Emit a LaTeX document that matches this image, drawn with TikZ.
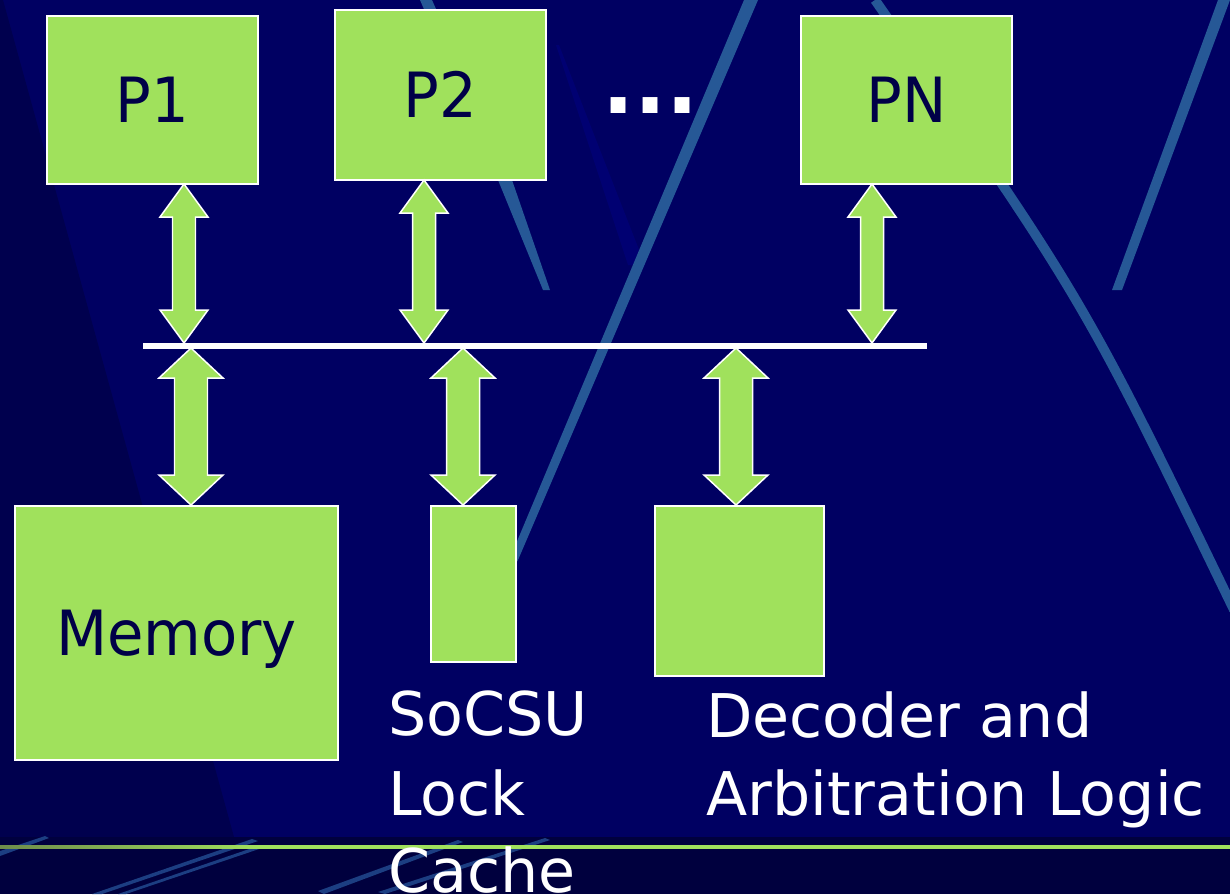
\documentclass[tikz,border=0pt]{standalone}
\usepackage{fontspec}
\setmainfont{DejaVu Sans}
\newfontfamily\narrowfam[FakeStretch=0.95]{DejaVu Sans}
\usetikzlibrary{calc}
\newcommand\bxfnt{\narrowfam\fontsize{35.5pt}{42pt}\selectfont}
\newcommand\capfnt{\fontsize{34.3pt}{43.6pt}\selectfont}
\newcommand\dotfnt{\bfseries\fontsize{48pt}{52pt}\selectfont}
\definecolor{bg}{RGB}{0,0,98}
\definecolor{bgdark}{RGB}{0,0,78}
\definecolor{bgband}{RGB}{0,0,62}
\definecolor{streak}{RGB}{38,88,150}
\definecolor{streakdim}{RGB}{28,62,130}
\definecolor{wedgeblue}{RGB}{0,0,114}
\definecolor{boxgreen}{RGB}{160,225,92}
\definecolor{txtnavy}{RGB}{0,0,72}
\definecolor{lineolive}{RGB}{110,140,75}
\tikzset{
  pics/dblarrow/.style n args={4}{code={
    \draw[arrowbody] (0,0) -- (#2,#4) -- (#3,#4) -- (#3,#1-#4) -- (#2,#1-#4) -- (0,#1)
      -- (-#2,#1-#4) -- (-#3,#1-#4) -- (-#3,#4) -- (-#2,#4) -- cycle;
  }}
}
\begin{document}
\begin{tikzpicture}[x=0.02cm,y=-0.02cm,
  box/.style 2 args={draw=white, fill=boxgreen, line width=0.85pt, inner sep=0pt, outer sep=0pt,
    minimum width=#1*0.02cm, minimum height=#2*0.02cm, text=txtnavy, font=\bxfnt,
    text height=25.9pt, text depth=0pt},
  arrowbody/.style={draw=white, fill=boxgreen, line width=0.85pt, line join=miter},
  bus/.style={draw=white, line width=3.2pt},
  streakline/.style={draw=streak, line width=#1, line cap=butt},
  caption/.style={text=white, font=\capfnt, inner sep=0pt, anchor=base west},
  dotsstyle/.style={text=white, font=\dotfnt, inner sep=0pt, anchor=base west}]
\useasboundingbox (0,0) rectangle (1230,894);
\clip (0,0) rectangle (1230,894);
% background
\fill[bg] (0,0) rectangle (1230,894);
\fill[bgdark] (0,0) -- (3,0) -- (234,837) -- (0,837) -- cycle;
\fill[wedgeblue] (556,45) -- (559,45) -- (645,265) -- (628,265) -- cycle;
% streaks
\fill[streak] (744,0) -- (758,0) -- (518,560) -- (508,576) -- (505,570) -- cycle;
\fill[streak] (420,0) -- (432,0) -- (512,180) -- (550,290) -- (543,290) -- (498,180) -- cycle;
\draw[streakline=5.5pt] (875,0) .. controls (1084,300) .. (1234,610);
\fill[streak] (1218,0) -- (1230,0) -- (1122,290) -- (1112,290) -- cycle;
% bottom band
\fill[bgband] (0,837) rectangle (1230,894);
\fill[streakdim] (0,851) -- (45,836) -- (49,838) -- (0,856) -- cycle;
\fill[streakdim] (92,894) -- (252,839) -- (258,841) -- (102,894) -- cycle;
\fill[streakdim] (118,894) -- (258,846) -- (262,848) -- (126,894) -- cycle;
\fill[streakdim] (318,891) -- (458,840) -- (463,842) -- (324,894) -- cycle;
\fill[streakdim] (378,892) -- (545,838) -- (550,840) -- (385,894) -- cycle;
\shade[left color=lineolive, right color=boxgreen] (0,845) rectangle (260,848.5);
\fill[boxgreen] (259,845) rectangle (1230,848.5);
% processor boxes
\node[box={211}{168}] (P1) at (152.5,100) {P1};
\node[box={211}{170}] (P2) at (440.5,95) {P2};
\node[box={211}{168}] (PN) at (906.5,100) {PN};
\node[dotsstyle] (dots) at (602,113) {...};
% bus
\coordinate (busL) at (143,346);
\coordinate (busR) at (927,346);
\draw[bus] (busL) -- (busR);
% lower boxes
\node[box={323}{254}] (mem) at (176.5,633) {Memory};
\node[box={85}{156}] (lock) at (473.5,584) {};
\node[box={169}{170}] (dec) at (739.5,591) {};
% arrows processors <-> bus
\pic at (184,0 |- P1.south) {dblarrow={159}{24}{11.5}{33}};
\pic at (424,0 |- P2.south) {dblarrow={163}{24}{11.5}{33}};
\pic at (872,0 |- PN.south) {dblarrow={159}{24}{11.5}{33}};
% arrows bus <-> devices
\pic at (191,348) {dblarrow={157}{32}{16.5}{30}};
\pic at (463,348) {dblarrow={157}{32}{16.5}{30}};
\pic at (736,348) {dblarrow={157}{32}{16.5}{30}};
% captions
\node[caption] (lockA) at (388,735) {SoCSU};
\node[caption] (lockB) at (388,815) {Lock};
\node[caption] (lockC) at (388,892) {Cache};
\node[caption] (decA) at (706,737) {Decoder and};
\node[caption] (decB) at (706,815) {Arbitration Logic};
\end{tikzpicture}
\end{document}
